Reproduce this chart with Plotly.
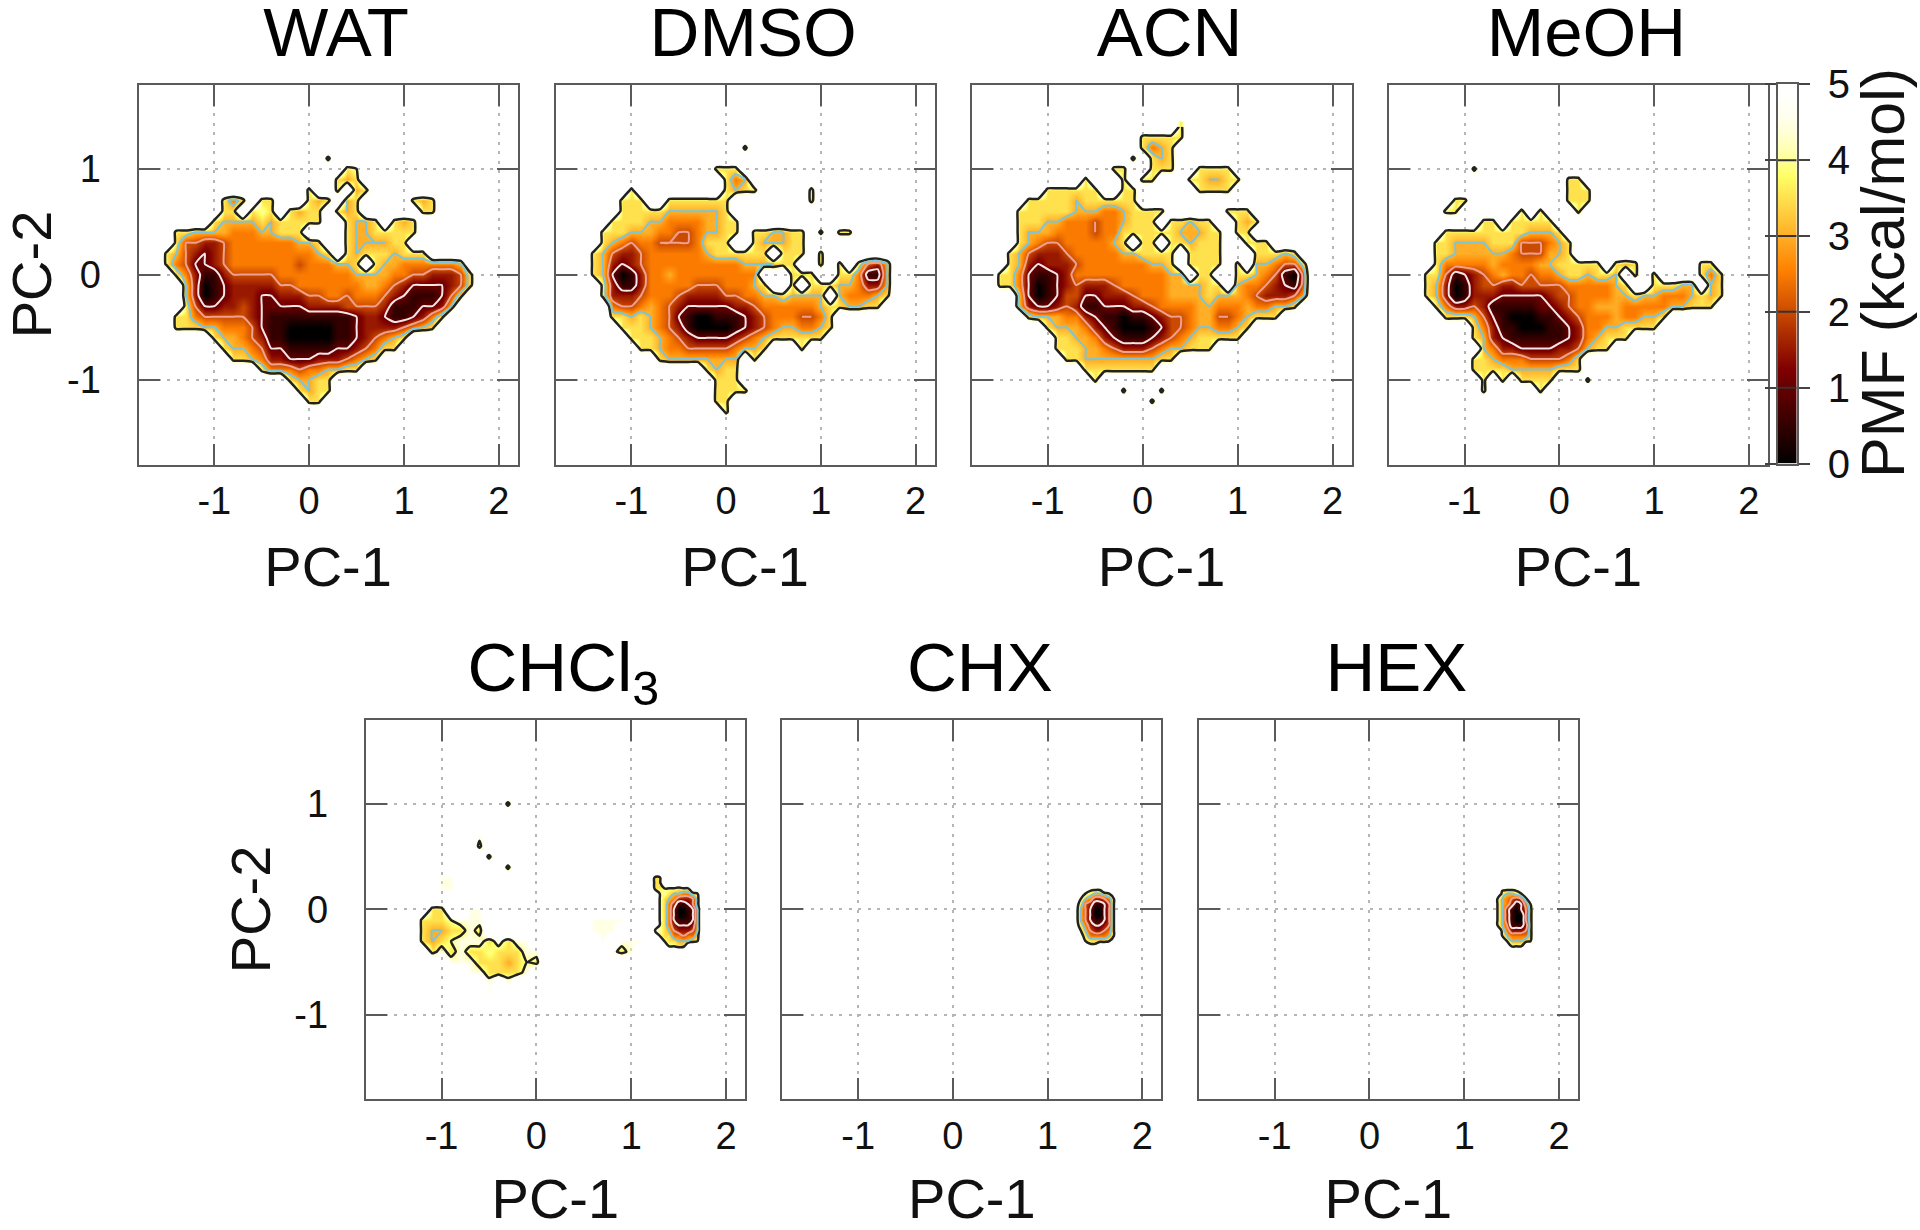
import plotly.graph_objects as go

W, H = 1920, 1230
X_COARSE = [-1.7,-1.6,-1.5,-1.4,-1.3,-1.2,-1.1,-1.0,-0.9,-0.8,-0.7,-0.6,-0.5,-0.4,-0.3,-0.2,-0.1,0.0,0.1,0.2,
            0.3,0.4,0.5,0.6,0.7,0.8,0.9,1.0,1.1,1.2,1.3,1.4,1.5,1.6,1.7,1.8,1.9]
Y_COARSE = [1.4,1.3,1.2,1.1,1.0,0.9,0.8,0.7,0.6,0.5,0.4,0.3,0.2,0.1,0.0,-0.1,-0.2,-0.3,-0.4,-0.5,-0.6,-0.7,
            -0.8,-0.9,-1.0,-1.1,-1.2,-1.3,-1.4]
X_PEAK = [1.15,1.20,1.25,1.30,1.35,1.40,1.45,1.50,1.55,1.60,1.65,1.70,1.75,1.80]
Y_PEAK = [0.35,0.30,0.25,0.20,0.15,0.10,0.05,0.0,-0.05,-0.10,-0.15,-0.20,-0.25,-0.30,-0.35,-0.40]

# each character is PMF*2 in kcal/mol, '.' marks an empty bin (above the 5 kcal/mol cap)
WAT_ROWS = ["","","",
".......... .........7",
".......... .......... .78",
".......... .......... 767",
".......... .......7.. 7.67",
"........75 7.77...767 .67.....76 7",
"........77 .787.7677. 767......7 7",
".......766 667677777. .7667.767",
"...7766665 5566777... .76677777",
"...7443345 555555667. .7666677",
"..76432345 5555555567 .767776777",
"..75422345 5555554555 667.766555 5556",
"...7531134 4444555555 5566665544 33347",
"....630123 3333445555 5556654322 22347",
"....630123 3322333445 5455543211 1247",
"....742233 4322222333 3444431112 236",
"...7754444 4321111111 1123321123 57",
"...7776655 5421100000 1123333456 7",
".......766 5431100000 11234567",
"........76 6542211111 2234577",
".........7 7653322233 34567",
".......... ..75554556 677",
".......... .....76677",
".......... ......7677",
".......... .......77",
"",""]

DMSO_ROWS = ["","",
".......... .........7",
"",
".......... ......777",
".......... .......756",
".......7.. .......767 7.....7",
"......777. .7777777.. ......7",
"......7777 76666667..",
".....77776 655556677.",
"....777666 554456677. 776677.7.7 7",
"....765455 44445777.. 766677",
"...7643345 5555567777 77.777.7",
"...7632345 5555555556 66677..7.7 .7436",
"...7620135 5655555555 5...777..7 75116",
"....731135 5555444555 67..7.7776 65336",
"....733345 5543333445 56676666.6 55567",
".....54456 5432222233 4555555677 6677",
".....77676 5421001112 345554457",
"......7776 5431000012 345665567",
".......777 6543222234 56777777",
"........77 6554444456 67...7",
".......... 766666666. 7",
".......... .....7677.",
".......... ......777",
".......... ......7777",
".......... ......77",
".......... .......7",
""]

ACN_ROWS = [
".......... .......... .7",
".......... .......777 77",
".......... .......756 7",
".......... ......7.76 7",
".......... ....77..77 7..7777",
".......... .7...7.77. ..776677",
".......777 777..77... ...7777",
".....77777 6777777...",
"....777777 6665567777 ......777",
"....777665 554556777. 77677..767",
"....766655 5545577777 766677.77",
"....765445 555567.77. 776777..77 7",
"...7643334 5555566777 7.7777...7 7767",
"...7632333 4555555566 7.7777.7.6 65447",
"..77521123 5555555555 66.77..776 54105",
"..77520123 4333455555 666677.655 43215",
"....620124 4223334555 6666766654 33346",
"....632234 3112223345 5556655565 5667",
".....76665 5321101123 4456644567 77",
".......766 6532100012 445665567",
"........77 6653211123 45677777",
"........77 7665433345 66777",
".........7 7666666667 7",
".......... .77777777",
".......... ..7",
".......... .....7...7",
".......... ........7",
"",""]

MEOH_ROWS = ["","","","",
"........7",
".......... ........77",
".......... ........77 7",
"......77.. ........77 7",
".....77... ...7.7...7",
".........7 7.77777",
".....77777 77776667",
"....776666 777444567",
"....776666 665444667",
"....755555 6555566777 77.767.... ..77",
"...7741234 5655455677 6776.7.7.. ..757",
"...7630134 4334444455 55567..777 66.67",
"...7630133 3222223445 5556676655 56767",
"....753343 1111122345 5666555556 6777",
".....77764 2100011234 555655667",
"........75 3110001123 55667777",
"........76 3211111123 56777",
".........6 5332222334 677",
"........77 6555444457",
"........77 7766666777",
".........7 .7.7777... 7",
".........7 .....7",
"","",""]

CHCL3_ROWS = ["",
".......... .........9",
"","",
".......... ....7",
"","",
".......... .9",
".......... .7",
".......... ..7",
".......... ....7",
".......99",
".......99",
"",
"......77.. 99",
".....77789 99........ ...9999",
".....76677 97........ ...999",
".....76789 9979799... ....9.999",
"......7979 77877799.. .....979",
"........99 97776787.. ..9",
".......... 9977779",
".......... ..9.9",
".......... ..9",
"","","","","",""]
CHCL3_PEAK = ["",
"..77",
"..77",
"..778887 88",
"...8876655 78",
"...8765333 47",
"...8753112 47",
"...8752001 26",
"...8752001 26",
"...8752111 26",
"...8753222 36",
"..88764333 46",
"...8775545 57",
"....877666 78",
".....8877",
""]

CHX_ROWS = [""]*19 + [".......... ...9"] + [""]*9
CHX_PEAK = ["","","",
"......999",
".....87667 8",
"....865334 58",
"...9743112 48",
"...9642002 48",
"...9642002 48",
"...9642112 48",
"...9753223 48",
"....864334 58",
"....975555 68",
".....87777 8",
"......99",
""]

HEX_PEAK = ["","","",
".....9999",
".....76678",
"....865434 7",
"....865312 58",
"....863102 47",
"....863100 47",
"....863100 47",
"....864111 37",
".....75333 47",
".....86555 57",
"......8666 78",
".......888",
""]

TICKS_X = [-1, 0, 1, 2]
TICKS_X_TEXT = ["-1", "0", "1", "2"]
TICKS_Y = [-1, 0, 1]
TICKS_Y_TEXT = ["-1", "0", "1"]
CB_LEVELS = [0,0.25,0.5,0.75,1,1.25,1.5,1.75,2,2.25,2.5,2.75,3,3.25,3.5,3.75,4,4.25,4.5,4.75,5]
CB_TICKS = [0, 1, 2, 3, 4, 5]
CONTOUR_LEVELS = [4, 3, 2, 1]
CONTOUR_COLORS = ["#222222", "#7cc4d6", "#f0a090", "#f3e6e6"]
CONTOUR_WIDTHS = [2.5, 2, 2, 2]
COLORSCALE = [[0, "#000000"], [0.25, "#800000"], [0.51, "#ff8000"], [0.76, "#ffff66"], [1, "rgba(255,255,255,0)"]]
EMPTY_BIN = 6.5

FONT = "Liberation Sans"
TITLES = ["WAT", "DMSO", "ACN", "MeOH", "CHCl<sub>3</sub>", "CHX", "HEX"]
# left, right, top, bottom of every panel in page pixels
BOXES = [(138.5, 517.7, 84.5, 464.5), (555.7, 934.5, 84.5, 464.5), (971.7, 1351.5, 84.5, 464.5), (1389, 1767.7, 84.5, 464.5),
         (365.7, 745, 719.5, 1099.3), (782.4, 1161.3, 719.5, 1099.3), (1198.8, 1578, 719.5, 1099.3)]
PATCHES = [[(X_COARSE, Y_COARSE, WAT_ROWS, 0.5)], [(X_COARSE, Y_COARSE, DMSO_ROWS, 0.5)], [(X_COARSE, Y_COARSE, ACN_ROWS, 0.5)],
           [(X_COARSE, Y_COARSE, MEOH_ROWS, 0.5)],
           [(X_COARSE, Y_COARSE, CHCL3_ROWS, 0.5), (X_PEAK, Y_PEAK, CHCL3_PEAK, 1.2)],
           [(X_COARSE, Y_COARSE, CHX_ROWS, 0.5), (X_PEAK, Y_PEAK, CHX_PEAK, 1.2)],
           [(X_PEAK, Y_PEAK, HEX_PEAK, 1.2)]]


def decode(rows, n):
    out = []
    for r in rows:
        s = r.replace(" ", "").ljust(n, ".")
        out.append([EMPTY_BIN if c == "." else int(c) / 2 for c in s])
    return out


def fx(p):
    return p / W


def fy(p):
    return 1 - p / H


fig = go.Figure()
layout = dict(width=W, height=H, margin=dict(l=0, r=0, t=0, b=0, autoexpand=False), paper_bgcolor="white",
              plot_bgcolor="rgba(0,0,0,0)", showlegend=False, font=dict(family=FONT, size=37, color="#111111"))
LINE = "#5a5a5a"
GRID = dict(showgrid=True, gridcolor="#b5b5b5", griddash="3px,6.5px", gridwidth=2, zeroline=False, automargin=False)
title_x, title_y = [], []
for k, box in enumerate(BOXES):
    n = k + 1
    left, right, top, bottom = box
    first = k in (0, 4)
    layout[f"xaxis{n}"] = dict(domain=[fx(left), fx(right)], range=[-1.8, 2.2], anchor=f"y{n}", tickvals=TICKS_X,
                               ticktext=TICKS_X_TEXT, ticks="inside", ticklen=21, tickwidth=2, tickcolor=LINE,
                               showline=True, linecolor=LINE, linewidth=2, mirror="ticks",
                               tickfont=dict(size=38, family=FONT, color="#111"), ticklabelstandoff=2,
                               title=dict(text="PC-1", standoff=26, font=dict(size=56, family=FONT, color="#111")),
                               **GRID)
    ytitle = dict(text="PC-2", standoff=19 if k == 0 else 6, font=dict(size=56, family=FONT, color="#111")) if first else None
    layout[f"yaxis{n}"] = dict(domain=[fy(bottom), fy(top)], range=[-1.8, 1.8], anchor=f"x{n}", tickvals=TICKS_Y,
                               ticktext=TICKS_Y_TEXT, ticks="inside", ticklen=21, tickwidth=2, tickcolor=LINE,
                               showline=True, linecolor=LINE, linewidth=2, mirror="ticks", showticklabels=first,
                               tickfont=dict(size=38, family=FONT, color="#111"), ticklabelstandoff=28, title=ytitle,
                               **GRID)
    for xs, ys, rows, smooth in PATCHES[k]:
        z = decode(rows, len(xs))
        fig.add_trace(go.Heatmap(x=xs, y=ys, z=z, zmin=0, zmax=5, colorscale=COLORSCALE, zsmooth="best",
                                 showscale=False, hoverinfo="skip", xaxis=f"x{n}", yaxis=f"y{n}"))
        for lev, col, wid in zip(CONTOUR_LEVELS, CONTOUR_COLORS, CONTOUR_WIDTHS):
            fig.add_trace(go.Contour(x=xs, y=ys, z=z, autocontour=False, showscale=False, hoverinfo="skip",
                                     contours=dict(start=lev, end=lev, size=1, coloring="none", showlabels=False),
                                     line=dict(color=col, width=wid, smoothing=smooth), xaxis=f"x{n}", yaxis=f"y{n}"))
    title_x.append((left + right) / 2 + 8)
    title_y.append(38.5 if k < 4 else 673.5)

# colour bar drawn as its own small panel
cb = 8
layout[f"xaxis{cb}"] = dict(domain=[fx(1777.7), fx(1796.7)], range=[0, 1], anchor=f"y{cb}", showticklabels=False,
                            ticks="", showgrid=False, zeroline=False, showline=True, linecolor=LINE, linewidth=2,
                            mirror=True, automargin=False)
layout[f"yaxis{cb}"] = dict(domain=[fy(463.5), fy(84.3)], range=[0, 5], anchor=f"x{cb}", side="right",
                            tickvals=CB_TICKS, ticks="outside", ticklen=11, tickwidth=2, tickcolor="#444",
                            showline=True, linecolor=LINE, linewidth=2, mirror="ticks", showgrid=False, zeroline=False,
                            tickfont=dict(size=40, family=FONT, color="#111"), ticklabelstandoff=10, automargin=False)
fig.add_trace(go.Heatmap(x=[0, 1], y=CB_LEVELS, z=[[v, v] for v in CB_LEVELS], zmin=0, zmax=5, colorscale=COLORSCALE,
                         zsmooth="best", showscale=False, hoverinfo="skip", xaxis=f"x{cb}", yaxis=f"y{cb}"))
shapes = [dict(type="line", xref=f"x{cb}", yref=f"y{cb}", x0=0, x1=1, y0=t, y1=t,
               line=dict(color="#333", width=2), layer="above") for t in CB_TICKS[1:-1]]

# panel titles live on a hidden page-sized axis pair, so they cannot push the margins
layout["xaxis9"] = dict(domain=[0, 1], range=[0, W], anchor="y9", visible=False, automargin=False)
layout["yaxis9"] = dict(domain=[0, 1], range=[H, 0], anchor="x9", visible=False, automargin=False)
fig.add_trace(go.Scatter(x=title_x, y=title_y, text=TITLES, mode="text", textposition="middle center", cliponaxis=False,
                         textfont=dict(size=69, family=FONT, color="#000"), hoverinfo="skip", xaxis="x9", yaxis="y9"))
ann = [dict(text="PMF (kcal/mol)", x=fx(1883), y=fy(273), xref="paper", yref="paper", xanchor="center",
            yanchor="middle", textangle=-90, showarrow=False, font=dict(size=61, family=FONT, color="#111"))]
fig.update_layout(**layout, annotations=ann, shapes=shapes)
fig.write_html("out.html", config={"displayModeBar": False},
               post_script="document.body.style.margin='0';document.documentElement.style.overflow='hidden';")
